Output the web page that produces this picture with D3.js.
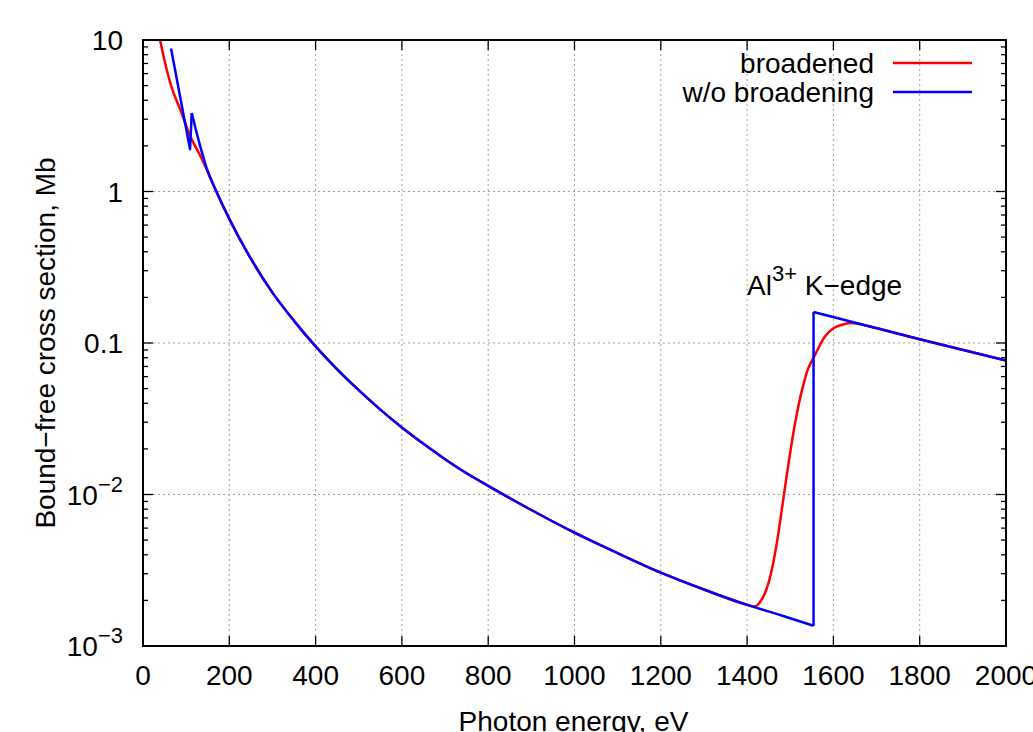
<!DOCTYPE html>
<html>
<head>
<meta charset="utf-8">
<script src="https://cdn.jsdelivr.net/npm/d3@7"></script>
<style>
  body { margin: 0; background: #fff; }
  text { font-family: "Liberation Sans", Arial, sans-serif; fill: #000; }
</style>
</head>
<body>
<div id="chart"></div>
<script>
// ---- data (photon energy eV, cross section Mb) ----
var xTicks = [0, 200, 400, 600, 800, 1000, 1200, 1400, 1600, 1800, 2000];
var yTicks = [1e-3, 1e-2, 0.1, 1, 10];
var yTickLabels = [["10", "\u22123"], ["10", "\u22122"], ["0.1", ""], ["1", ""], ["10", ""]];

// shared part of both curves, between the L-shell features and the K-edge
var commonE = [170, 200, 250, 300, 350, 400, 450, 500, 550, 600, 650, 700, 750, 800, 900, 1000, 1100, 1200, 1300, 1400];
var commonS = [1.0, 0.66, 0.36, 0.215, 0.14, 0.095, 0.067, 0.0488, 0.0363, 0.0277, 0.0216, 0.0171, 0.0138, 0.0114, 0.0079, 0.0056, 0.0041, 0.00305, 0.00236, 0.00187];

// w/o broadening: saw-tooth at low energy, sharp K-edge
var blueLowE = [65, 109];
var blueLowS = [8.8, 1.9];
var blueMidE = [113, 130, 150];
var blueMidS = [3.3, 2.12, 1.36];
var blueEdgeE = [1400, 1480, 1554];
var blueEdgeS = [0.00187, 0.00159, 0.00136];
var blueHighE = [1554, 1660, 1680, 1800, 2000];
var blueHighS = [0.16, 0.134, 0.1294, 0.106, 0.0765];

// broadened (joins the blue curve again at 1680 eV)
var redLowE = [38, 50, 66, 86, 110, 132, 150];
var redLowS = [10.5, 7.3, 4.9, 3.5, 2.3, 1.74, 1.35];
var redEdgeE = [1400, 1417, 1430, 1440, 1450, 1460, 1470, 1480, 1490, 1500, 1510, 1520, 1530, 1540, 1557, 1580, 1600, 1620, 1640, 1660];
var redEdgeS = [0.00187, 0.00182, 0.00195, 0.00219, 0.00263, 0.00347, 0.00501, 0.0078, 0.0123, 0.019, 0.0282, 0.0398, 0.0525, 0.066, 0.083, 0.11, 0.125, 0.132, 0.1355, 0.1335];

function zip(e, s) {
  var out = [];
  for (var i = 0; i < e.length; i++) out.push([e[i], s[i]]);
  return out;
}

var W = 1033, H = 732;
var pLeft = 143, pRight = 1006, pTop = 40, pBottom = 646;

var svg = d3.select("#chart").append("svg")
  .attr("width", W)
  .attr("height", H);

var x = d3.scaleLinear().domain([0, 2000]).range([pLeft, pRight]);
var y = d3.scaleLog().domain([1e-3, 10]).range([pBottom, pTop]);

svg.append("clipPath").attr("id", "clip")
  .append("rect")
  .attr("x", pLeft).attr("y", pTop)
  .attr("width", pRight - pLeft).attr("height", pBottom - pTop);

// grid
var grid = svg.append("g")
  .attr("stroke", "#a0a0a0")
  .attr("stroke-width", 1)
  .attr("stroke-dasharray", "2,3");
grid.selectAll(".gx")
  .data(xTicks.slice(1, -1))
  .enter().append("line")
  .attr("x1", function(d) { return x(d); })
  .attr("x2", function(d) { return x(d); })
  .attr("y1", pBottom).attr("y2", pTop);
grid.selectAll(".gy")
  .data(yTicks.slice(1, -1))
  .enter().append("line")
  .attr("y1", function(d) { return y(d); })
  .attr("y2", function(d) { return y(d); })
  .attr("x1", pLeft).attr("x2", pRight);

// ticks, mirrored on all four sides
var ticks = svg.append("g").attr("stroke", "#000").attr("stroke-width", 1.3);
xTicks.forEach(function(t) {
  ticks.append("line").attr("x1", x(t)).attr("x2", x(t)).attr("y1", pBottom).attr("y2", pBottom - 10);
  ticks.append("line").attr("x1", x(t)).attr("x2", x(t)).attr("y1", pTop).attr("y2", pTop + 10);
});
for (var p = -3; p <= 1; p++) {
  for (var m = 1; m <= 9; m++) {
    var v = m * Math.pow(10, p);
    if (v > 10.0001) break;
    var len = (m == 1) ? 10 : 5;
    ticks.append("line").attr("x1", pLeft).attr("x2", pLeft + len).attr("y1", y(v)).attr("y2", y(v));
    ticks.append("line").attr("x1", pRight).attr("x2", pRight - len).attr("y1", y(v)).attr("y2", y(v));
  }
}

// curves
var line = d3.line()
  .x(function(d) { return x(d[0]); })
  .y(function(d) { return y(d[1]); })
  .curve(d3.curveMonotoneX);
var straight = d3.line()
  .x(function(d) { return x(d[0]); })
  .y(function(d) { return y(d[1]); });

var curves = svg.append("g").attr("clip-path", "url(#clip)")
  .attr("fill", "none")
  .attr("stroke-width", 2.5)
  .attr("stroke-linejoin", "round");

var redPts = zip(redLowE, redLowS).concat(
  zip(commonE, commonS).slice(0, -1),
  zip(redEdgeE, redEdgeS),
  zip(blueHighE, blueHighS).slice(2));
curves.append("path").attr("d", line(redPts)).attr("stroke", "#ff0000");

var bluePieces = [
  zip(blueLowE, blueLowS).concat(zip(blueMidE, blueMidS).slice(0, 1)),
  zip(blueMidE, blueMidS).concat(zip(commonE, commonS).slice(0, -1), zip(blueEdgeE, blueEdgeS)),
  [[blueEdgeE[blueEdgeE.length - 1], blueEdgeS[blueEdgeS.length - 1]], [blueHighE[0], blueHighS[0]]],
  zip(blueHighE, blueHighS)
];
bluePieces.forEach(function(pc, i) {
  curves.append("path")
    .attr("d", (i == 1) ? line(pc) : straight(pc))
    .attr("stroke", "#0000ff");
});

// frame
svg.append("rect")
  .attr("x", pLeft).attr("y", pTop)
  .attr("width", pRight - pLeft).attr("height", pBottom - pTop)
  .attr("fill", "none").attr("stroke", "#000").attr("stroke-width", 2);

// tick labels
svg.selectAll(".xl")
  .data(xTicks)
  .enter().append("text")
  .attr("x", function(d) { return x(d); })
  .attr("y", 685)
  .attr("text-anchor", "middle")
  .attr("font-size", 28)
  .text(function(d) { return d; });

yTicks.forEach(function(t, i) {
  var lab = yTickLabels[i];
  var tx = svg.append("text")
    .attr("x", 123)
    .attr("y", y(t) + 10)
    .attr("text-anchor", "end")
    .attr("font-size", 28);
  tx.append("tspan").text(lab[0]);
  if (lab[1] != "") {
    tx.append("tspan").attr("dy", -13).attr("font-size", 22).text(lab[1]);
  }
});

// axis titles
svg.append("text")
  .attr("x", (pLeft + pRight) / 2 - 1)
  .attr("y", 731)
  .attr("text-anchor", "middle")
  .attr("font-size", 28)
  .text("Photon energy, eV");

svg.append("text")
  .attr("transform", "translate(55," + ((pTop + pBottom) / 2) + ") rotate(-90)")
  .attr("text-anchor", "middle")
  .attr("font-size", 28)
  .text("Bound\u2212free cross section, Mb");

// annotation
var ann = svg.append("text")
  .attr("x", 747)
  .attr("y", 295)
  .attr("font-size", 28);
ann.append("tspan").text("Al");
ann.append("tspan").attr("dy", -14).attr("font-size", 22).text("3+");
ann.append("tspan").attr("dy", 14).text(" K\u2212edge");

// legend
var legend = [["broadened", "#ff0000", 63], ["w/o broadening", "#0000ff", 92]];
legend.forEach(function(l) {
  svg.append("text")
    .attr("x", 874).attr("y", l[2] + 10)
    .attr("text-anchor", "end")
    .attr("font-size", 28)
    .text(l[0]);
  svg.append("line")
    .attr("x1", 893).attr("x2", 972)
    .attr("y1", l[2]).attr("y2", l[2])
    .attr("stroke", l[1]).attr("stroke-width", 2.5);
});
</script>
</body>
</html>
